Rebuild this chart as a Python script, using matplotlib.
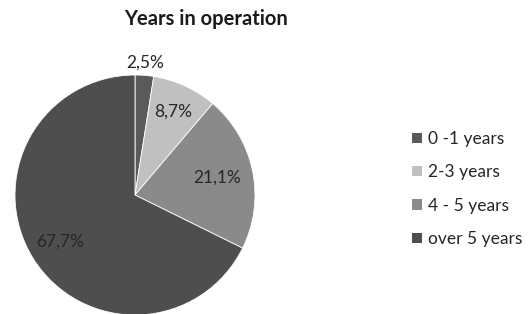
import matplotlib
matplotlib.use("Agg")
import matplotlib.pyplot as plt
import numpy as np

categories = ["0 -1 years", "2-3 years", "4 - 5 years", "over 5 years"]
values = [2.5, 8.7, 21.1, 67.7]
value_labels = ["2,5%", "8,7%", "21,1%", "67,7%"]
colors = ["#5a5a5a", "#c0c0c0", "#8a8a8a", "#4e4e4e"]
label_radius = [1.11, 0.76, 0.70, 0.73]

plt.rcParams['font.family'] = ['Lato', 'DejaVu Sans']

W, H = 532, 314
fig = plt.figure(figsize=(W / 100, H / 100), dpi=100)
fig.patch.set_facecolor("white")

cx, cy, R = 135, 195, 120
ax = fig.add_axes([(cx - R) / W, (H - cy - R) / H, 2 * R / W, 2 * R / H])
wedges, _ = ax.pie(values, colors=colors, startangle=90, counterclock=False,
                   radius=1, wedgeprops=dict(edgecolor="white", linewidth=0.6))
ax.set_xlim(-1, 1)
ax.set_ylim(-1, 1)
ax.set_aspect("equal")
ax.axis("off")

for w, lab, r in zip(wedges, value_labels, label_radius):
    ang = np.deg2rad((w.theta1 + w.theta2) / 2)
    ax.text(r * np.cos(ang), r * np.sin(ang), lab, ha="center", va="center",
            fontsize=12.5, color="#262626", clip_on=False)

fig.text(206 / W, 1 - 19 / H, "Years in operation", ha="center", va="center",
         fontsize=14.5, fontweight="bold", color="#1a1a1a")

leg = fig.legend(wedges, categories, loc="upper left",
                 bbox_to_anchor=(412 / W, 1 - 131 / H), frameon=False,
                 fontsize=12.5, handlelength=0.55, handleheight=0.55,
                 handletextpad=0.4, labelspacing=1.0, borderaxespad=0,
                 borderpad=0)
for t in leg.get_texts():
    t.set_color("#262626")
for h in leg.legend_handles:
    h.set_edgecolor("none")

fig.savefig("out.png", dpi=100, facecolor="white")
